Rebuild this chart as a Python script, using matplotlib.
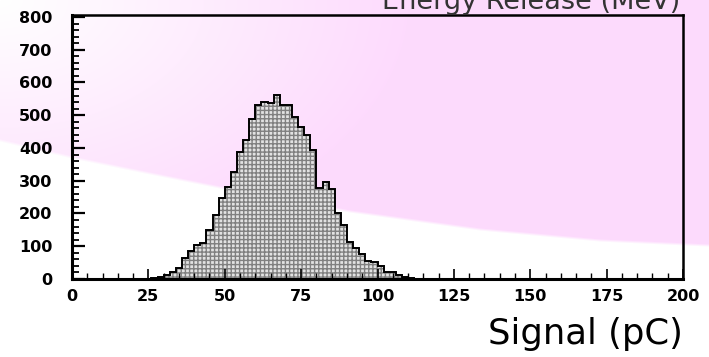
import numpy as np
import matplotlib
matplotlib.use("Agg")
import matplotlib.pyplot as plt
from matplotlib.ticker import MultipleLocator

# histogram of signal charge, bins of 2 pC
bin_edges = list(range(26, 114, 2))
counts = [4, 5, 12, 22, 35, 64, 85, 104, 110, 150, 195, 247, 280, 328, 389,
          424, 488, 531, 541, 537, 562, 531, 531, 496, 465, 440, 395, 278,
          297, 275, 200, 165, 114, 95, 75, 55, 53, 40, 22, 20, 12, 7, 4]
x_ticks = [0, 25, 50, 75, 100, 125, 150, 175, 200]
y_ticks = [0, 100, 200, 300, 400, 500, 600, 700, 800]

W, H = 709, 357
fig = plt.figure(figsize=(W / 100, H / 100), dpi=100)

# slide background: pink band with white top-left glow and white lower swoosh
bg = fig.add_axes([0, 0, 1, 1], zorder=-10)
yy, xx = np.mgrid[0:H, 0:W]
pink = np.array([0.992, 0.855, 0.992])
white = np.array([1.0, 1.0, 1.0])
t = np.clip(np.hypot(xx / 1.6, yy) / 260.0, 0, 1)[..., None]
img = white * (1 - t) + pink * t
edge = np.interp(xx, [0, 72, 150, 220, 350, 480, 600, 709],
                 [140, 157, 173, 187, 211, 229, 240, 245])
s = np.clip((yy - edge) / 3.0 + 0.5, 0, 1)[..., None]
img = img * (1 - s) + white * s
bg.imshow(img, aspect="auto", extent=[0, W, H, 0], interpolation="bilinear")
bg.axis("off")

ax = fig.add_axes([72 / W, 1 - 279 / H, (683 - 72) / W, (279 - 15) / H])
ax.set_facecolor("none")

ax.stairs(counts, bin_edges, fill=True, facecolor="#e2e2e2",
          edgecolor="#808080", hatch="++++", linewidth=0)
ax.stairs(counts, bin_edges, baseline=0, color="black", linewidth=1.4)

ax.set_xlim(0, 200)
ax.set_ylim(0, 806)
ax.set_xticks(x_ticks)
ax.set_yticks(y_ticks)
ax.xaxis.set_minor_locator(MultipleLocator(5))
ax.yaxis.set_minor_locator(MultipleLocator(20))
ax.tick_params(which="both", direction="in", top=False, right=False,
               colors="black", labelsize=11.5)
ax.tick_params(axis="x", which="major", length=7, width=1.2, pad=7)
ax.tick_params(axis="x", which="minor", length=4, width=1.0)
ax.tick_params(axis="y", which="major", length=9, width=1.6, pad=14)
ax.tick_params(axis="y", which="minor", length=5, width=1.3)
for lab in ax.get_xticklabels() + ax.get_yticklabels():
    lab.set_fontweight("bold")
for side in ["left", "bottom"]:
    ax.spines[side].set_linewidth(2.2)
for side in ["top", "right"]:
    ax.spines[side].set_linewidth(1.8)

fig.text(683 / W, 1 - 344 / H, "Signal (pC)", ha="right", va="baseline",
         fontsize=25.5)
# axis title of the panel above, cut off by the slide crop
fig.text(680 / W, 1 - 9 / H, "Energy Release (MeV)", ha="right",
         va="baseline", fontsize=19.5, color="#333333")

fig.savefig("out.png", dpi=100)
